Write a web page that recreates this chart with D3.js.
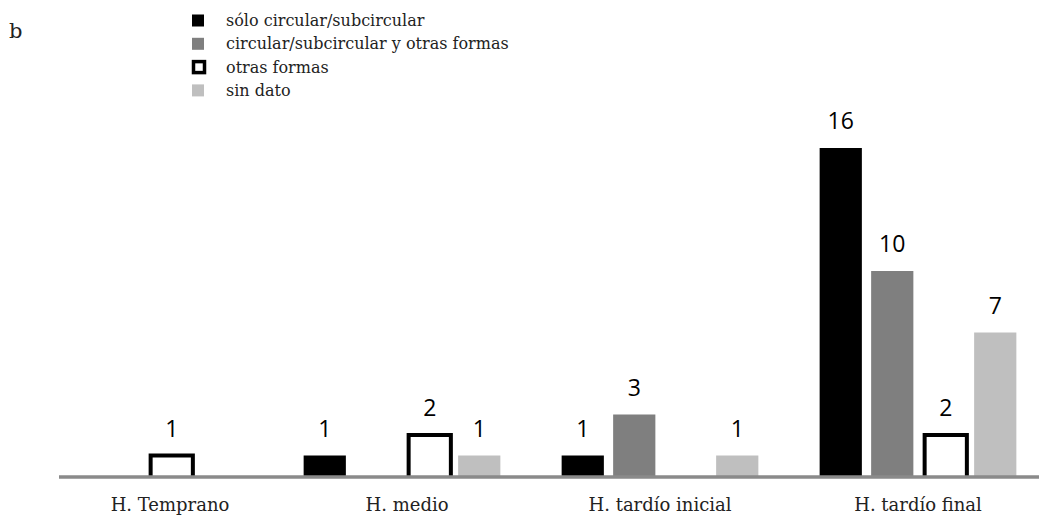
<!DOCTYPE html>
<html>
<head>
<meta charset="utf-8">
<script src="https://cdn.jsdelivr.net/npm/d3@7"></script>
<style>
  body { margin: 0; background: #fff; }
</style>
</head>
<body>
<svg id="chart" width="1039" height="522"></svg>
<script>
// Data
var categories = ["H. Temprano", "H. medio", "H. tardío inicial", "H. tardío final"];
var seriesNames = ["sólo circular/subcircular", "circular/subcircular y otras formas", "otras formas", "sin dato"];
var soloCircular = [0, 1, 1, 16];
var circularYOtras = [0, 0, 3, 10];
var otrasFormas = [1, 2, 0, 2];
var sinDato = [0, 1, 1, 7];
var panelLetter = "b";

// Styles
var seriesFill = ["#000000", "#7f7f7f", "#ffffff", "#bfbfbf"];
var outlineSeries = 2;
var axisColour = "#8a8a8a";
var serifFont = "'DejaVu Serif', serif";
var labelFont = "'Open Sans', sans-serif";

var allSeries = [soloCircular, circularYOtras, otrasFormas, sinDato];

var svg = d3.select("#chart");

var x0 = d3.scaleBand()
  .domain(categories)
  .range([15, 1047])
  .padding(0);

var x1 = d3.scaleBand()
  .domain(d3.range(seriesNames.length))
  .range([26, 232])
  .paddingInner(0.18)
  .paddingOuter(0.09);

var y = d3.scaleLinear()
  .domain([0, 16])
  .range([476, 148]);

// flatten into bar records, skipping zeros
var bars = [];
categories.forEach(function (c, ci) {
  allSeries.forEach(function (s, si) {
    if (s[ci] > 0) bars.push({ cat: c, series: si, value: s[ci] });
  });
});

var g = svg.append("g");

g.selectAll("rect.bar")
  .data(bars.filter(function (d) { return d.series !== outlineSeries; }))
  .enter().append("rect")
  .attr("class", "bar")
  .attr("x", function (d) { return x0(d.cat) + x1(d.series); })
  .attr("y", function (d) { return y(d.value); })
  .attr("width", x1.bandwidth())
  .attr("height", function (d) { return y(0) - y(d.value); })
  .attr("fill", function (d) { return seriesFill[d.series]; });

// open-bottomed outline bars
g.selectAll("path.outline")
  .data(bars.filter(function (d) { return d.series === outlineSeries; }))
  .enter().append("path")
  .attr("class", "outline")
  .attr("d", function (d) {
    var bx = x0(d.cat) + x1(d.series) + 2;
    var w = x1.bandwidth();
    return "M" + bx + "," + y(0) + "V" + y(d.value) + "H" + (bx + w) + "V" + y(0);
  })
  .attr("fill", "#fff")
  .attr("stroke", "#000")
  .attr("stroke-width", 4);

// value labels
g.selectAll("text.val")
  .data(bars)
  .enter().append("text")
  .attr("class", "val")
  .attr("x", function (d) { return x0(d.cat) + x1(d.series) + x1.bandwidth() / 2 + (d.series === outlineSeries ? 2 : 0); })
  .attr("y", function (d) { return y(d.value) - 19; })
  .attr("text-anchor", "middle")
  .attr("font-family", labelFont)
  .attr("font-size", 23)
  .attr("fill", "#000")
  .text(function (d) { return d.value; });

// baseline
svg.append("line")
  .attr("x1", 59)
  .attr("x2", 1039)
  .attr("y1", y(0) + 1)
  .attr("y2", y(0) + 1)
  .attr("stroke", axisColour)
  .attr("stroke-width", 3.5);

// category labels
var xAxis = d3.axisBottom(x0).tickSize(0).tickPadding(0);
var axisG = svg.append("g")
  .attr("transform", "translate(0,498)")
  .call(xAxis);
axisG.select(".domain").remove();
axisG.selectAll("text")
  .attr("dy", "0.71em")
  .attr("font-family", serifFont)
  .attr("font-size", 18)
  .attr("fill", "#222");
axisG.selectAll(".tick text").attr("transform", function (d, i) { return "translate(" + [26, 5, 0, 0][i] + ",0)"; });

// panel letter
svg.append("text")
  .attr("x", 9)
  .attr("y", 38)
  .attr("font-family", serifFont)
  .attr("font-size", 21)
  .attr("fill", "#222")
  .text(panelLetter);

// legend
var legend = svg.append("g").attr("transform", "translate(192,20.5)");
var rows = legend.selectAll("g.row")
  .data(seriesNames)
  .enter().append("g")
  .attr("class", "row")
  .attr("transform", function (d, i) { return "translate(0," + (i * 23.3) + ")"; });

rows.append("rect")
  .attr("x", function (d, i) { return i === outlineSeries ? 1.5 : 0; })
  .attr("y", function (d, i) { return i === outlineSeries ? -5.5 : -6; })
  .attr("width", function (d, i) { return i === outlineSeries ? 11 : 12; })
  .attr("height", function (d, i) { return i === outlineSeries ? 11 : 12; })
  .attr("fill", function (d, i) { return seriesFill[i]; })
  .attr("stroke", function (d, i) { return i === outlineSeries ? "#000" : "none"; })
  .attr("stroke-width", 3.5);

rows.append("text")
  .attr("x", 34)
  .attr("y", 0)
  .attr("dy", "0.35em")
  .attr("font-family", serifFont)
  .attr("font-size", 16)
  .attr("fill", "#222")
  .text(function (d) { return d; });
</script>
</body>
</html>
